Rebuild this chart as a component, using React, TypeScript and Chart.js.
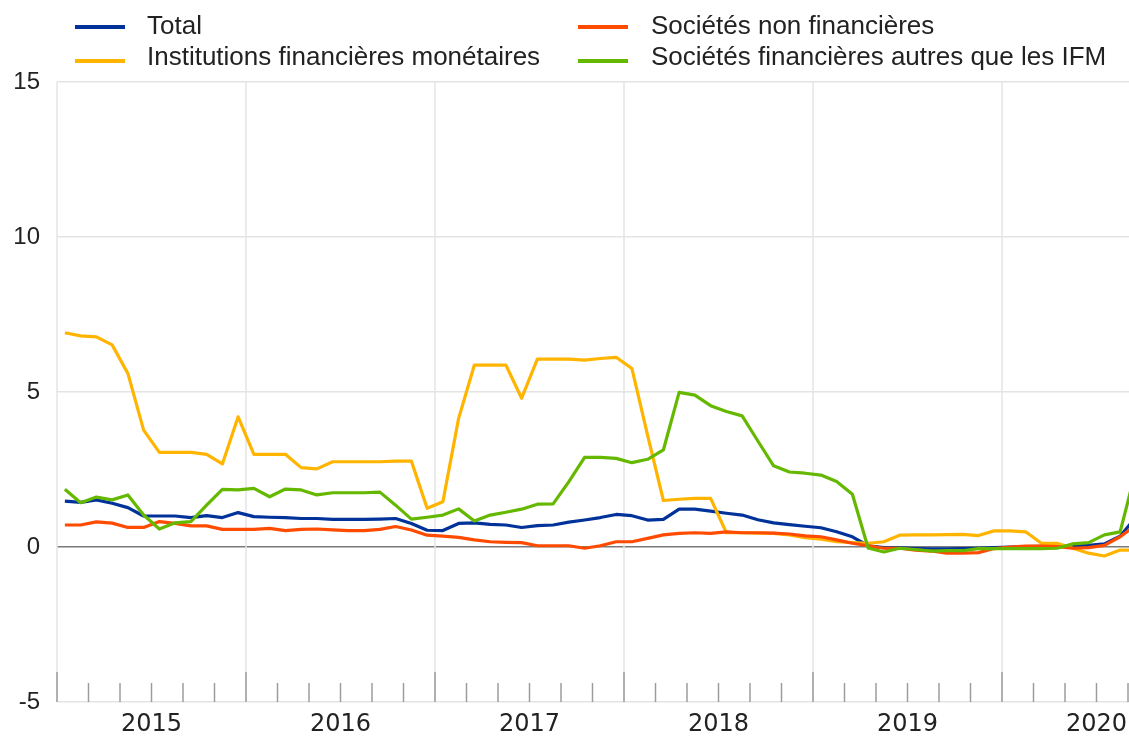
import React, { useEffect, useRef } from "react";
import { Chart, registerables } from "chart.js";

Chart.register(...registerables);

// Year labels of the x axis (monthly data starting January 2015)
const years = ["2015", "2016", "2017", "2018", "2019", "2020"];
const monthCodes = ["01", "02", "03", "04", "05", "06", "07", "08", "09", "10", "11", "12"];
const months = years.flatMap((y) => monthCodes.map((m) => `${y}-${m}`));

const yTicks = [-5, 0, 5, 10, 15];

const seriesNames = [
  "Total",
  "Institutions financières monétaires",
  "Sociétés non financières",
  "Sociétés financières autres que les IFM",
];

const total = [
  1.48, 1.44, 1.52, 1.41, 1.27, 1.0, 1.0, 1.0, 0.95, 1.01, 0.95, 1.11,
  0.98, 0.96, 0.95, 0.92, 0.92, 0.89, 0.89, 0.89, 0.9, 0.92, 0.76, 0.54,
  0.53, 0.76, 0.78, 0.73, 0.71, 0.63, 0.69, 0.71, 0.8, 0.87, 0.95, 1.05,
  1.01, 0.87, 0.89, 1.22, 1.22, 1.16, 1.09, 1.03, 0.88, 0.78, 0.72, 0.67,
  0.62, 0.49, 0.33, 0.04, -0.02, -0.03, -0.05, -0.06, -0.06, -0.05, -0.04, -0.02,
  0.0, 0.01, 0.02, 0.02, 0.03, 0.05, 0.1, 0.35, 0.96,
];

const ifm = [
  6.91, 6.81, 6.78, 6.52, 5.6, 3.77, 3.05, 3.05, 3.05, 2.99, 2.68, 4.2,
  2.99, 2.99, 2.99, 2.56, 2.52, 2.75, 2.75, 2.75, 2.75, 2.77, 2.77, 1.25,
  1.46, 4.15, 5.87, 5.87, 5.87, 4.8, 6.06, 6.06, 6.06, 6.03, 6.08, 6.12,
  5.76, 3.6, 1.5, 1.54, 1.57, 1.57, 0.46, 0.46, 0.45, 0.44, 0.39, 0.3,
  0.25, 0.17, 0.14, 0.12, 0.17, 0.38, 0.39, 0.39, 0.4, 0.41, 0.37, 0.52,
  0.52, 0.49, 0.12, 0.12, -0.04, -0.2, -0.29, -0.1, -0.1,
];

const snf = [
  0.71, 0.71, 0.81, 0.77, 0.63, 0.63, 0.82, 0.76, 0.68, 0.68, 0.57, 0.57,
  0.57, 0.6, 0.53, 0.57, 0.58, 0.55, 0.53, 0.53, 0.57, 0.66, 0.55, 0.38,
  0.35, 0.31, 0.23, 0.17, 0.15, 0.14, 0.04, 0.04, 0.04, -0.04, 0.04, 0.17,
  0.17, 0.28, 0.39, 0.44, 0.46, 0.44, 0.49, 0.46, 0.46, 0.45, 0.42, 0.36,
  0.33, 0.23, 0.12, 0.04, -0.04, -0.04, -0.1, -0.13, -0.2, -0.2, -0.18, -0.05,
  0.0, 0.03, 0.03, 0.01, -0.04, -0.02, 0.05, 0.33, 0.71,
];

const sfa = [
  1.86, 1.43, 1.61, 1.52, 1.68, 1.03, 0.58, 0.78, 0.82, 1.35, 1.86, 1.84,
  1.89, 1.62, 1.87, 1.84, 1.68, 1.75, 1.75, 1.75, 1.77, 1.35, 0.9, 0.96,
  1.03, 1.23, 0.84, 1.03, 1.12, 1.22, 1.38, 1.39, 2.11, 2.89, 2.89, 2.86,
  2.72, 2.83, 3.13, 4.99, 4.9, 4.56, 4.37, 4.23, 3.42, 2.62, 2.42, 2.38,
  2.32, 2.11, 1.7, -0.03, -0.16, -0.04, -0.08, -0.13, -0.12, -0.12, -0.05, -0.05,
  -0.05, -0.05, -0.05, -0.04, 0.1, 0.14, 0.39, 0.49, 2.47,
];

const COLORS = ["#003299", "#ffb400", "#ff4b00", "#65b800"];
const LEFT = 57;
const TOP = 82;
const BOTTOM_PAD = 34;
const WIDTH = 1129;
const HEIGHT = 736;
const MONTH_PX = 15.75;

const toPoints = (vals: number[]) =>
  vals.map((v, i) => ({ x: i + 0.5, y: v, m: months[i] }));

const decor = {
  id: "decor",
  beforeDatasetsDraw(chart: any) {
    const { ctx, chartArea, scales } = chart;
    const x = scales.x;
    const { top, bottom, right } = chartArea;
    ctx.save();
    ctx.strokeStyle = "#e4e4e4";
    ctx.lineWidth = 1.5;
    for (let k = 0; k <= years.length; k++) {
      const px = x.getPixelForValue(k * 12);
      if (px > right + 1) continue;
      ctx.beginPath();
      ctx.moveTo(px, top);
      ctx.lineTo(px, bottom);
      ctx.stroke();
    }
    ctx.strokeStyle = "#9c9c9c";
    ctx.lineWidth = 1.5;
    for (let m = 0; m <= years.length * 12; m += 2) {
      const px = x.getPixelForValue(m);
      if (px > right + 1) continue;
      const len = m % 12 === 0 ? 30 : 19;
      ctx.beginPath();
      ctx.moveTo(px, bottom - len);
      ctx.lineTo(px, bottom);
      ctx.stroke();
    }
    ctx.restore();
  },
  afterDraw(chart: any) {
    const { ctx, chartArea, scales } = chart;
    const x = scales.x;
    ctx.save();
    ctx.fillStyle = "#222";
    ctx.font = "24px 'DejaVu Sans'";
    ctx.textAlign = "center";
    ctx.textBaseline = "middle";
    years.forEach((yr, k) => {
      const px = x.getPixelForValue(k * 12 + 6);
      ctx.fillText(yr, px, chartArea.bottom + 23);
    });
    ctx.restore();
  },
};

export default function App() {
  const canvasRef = useRef<HTMLCanvasElement | null>(null);

  useEffect(() => {
    const canvas = canvasRef.current;
    if (!canvas) return;
    const seriesData = [total, ifm, snf, sfa];
    const drawOrder = [3, 2, 1, 0];
    const chart = new Chart(canvas, {
      type: "line",
      data: {
        datasets: seriesData.map((vals, i) => ({
          label: seriesNames[i],
          data: toPoints(vals),
          borderColor: COLORS[i],
          backgroundColor: COLORS[i],
          borderWidth: 3.2,
          pointRadius: 0,
          tension: 0,
          fill: false,
          borderJoinStyle: "round" as const,
          order: drawOrder[i],
        })),
      },
      options: {
        responsive: false,
        animation: false,
        events: [],
        layout: { padding: { left: 0, top: TOP, right: 0, bottom: BOTTOM_PAD } },
        plugins: {
          legend: { display: false },
          tooltip: { enabled: false },
        },
        scales: {
          x: {
            type: "linear",
            display: false,
            min: 0,
            max: (WIDTH - LEFT) / MONTH_PX,
          },
          y: {
            type: "linear",
            min: -5,
            max: 15,
            afterBuildTicks: (scale: any) => {
              scale.ticks = yTicks.map((v) => ({ value: v }));
            },
            afterFit: (scale: any) => {
              scale.width = LEFT;
            },
            border: { display: false },
            grid: {
              drawTicks: false,
              color: (c: any) => (c.tick && c.tick.value === 0 ? "#7a7a7a" : "#e4e4e4"),
              lineWidth: (c: any) => (c.tick && c.tick.value === 0 ? 1.6 : 1.5),
            },
            ticks: {
              padding: 17,
              color: "#222",
              font: { family: "'Liberation Sans', Arial, sans-serif", size: 24 },
              callback: (v: any) => String(v),
            },
          },
        },
      },
      plugins: [decor],
    });
    return () => chart.destroy();
  }, []);

  const legendItems = [
    { i: 0, lineX: 75, textX: 147, row: 0 },
    { i: 1, lineX: 75, textX: 147, row: 1 },
    { i: 2, lineX: 578, textX: 651, row: 0 },
    { i: 3, lineX: 578, textX: 651, row: 1 },
  ];

  return (
    <div style={{ position: "absolute", left: 0, top: 0, width: WIDTH, height: HEIGHT, background: "#fff", overflow: "hidden" }}>
      <canvas ref={canvasRef} width={WIDTH} height={HEIGHT} style={{ display: "block" }} />
      {legendItems.map((it) => (
        <React.Fragment key={it.i}>
          <div
            style={{
              position: "absolute",
              left: it.lineX,
              top: (it.row === 0 ? 27 : 61) - 2,
              width: 50,
              height: 4,
              background: COLORS[it.i],
            }}
          />
          <div
            style={{
              position: "absolute",
              left: it.textX,
              top: it.row === 0 ? 12 : 43,
              font: "26px 'Liberation Sans', Arial, sans-serif",
              lineHeight: "26px",
              color: "#222",
              whiteSpace: "nowrap",
            }}
          >
            {seriesNames[it.i]}
          </div>
        </React.Fragment>
      ))}
    </div>
  );
}
